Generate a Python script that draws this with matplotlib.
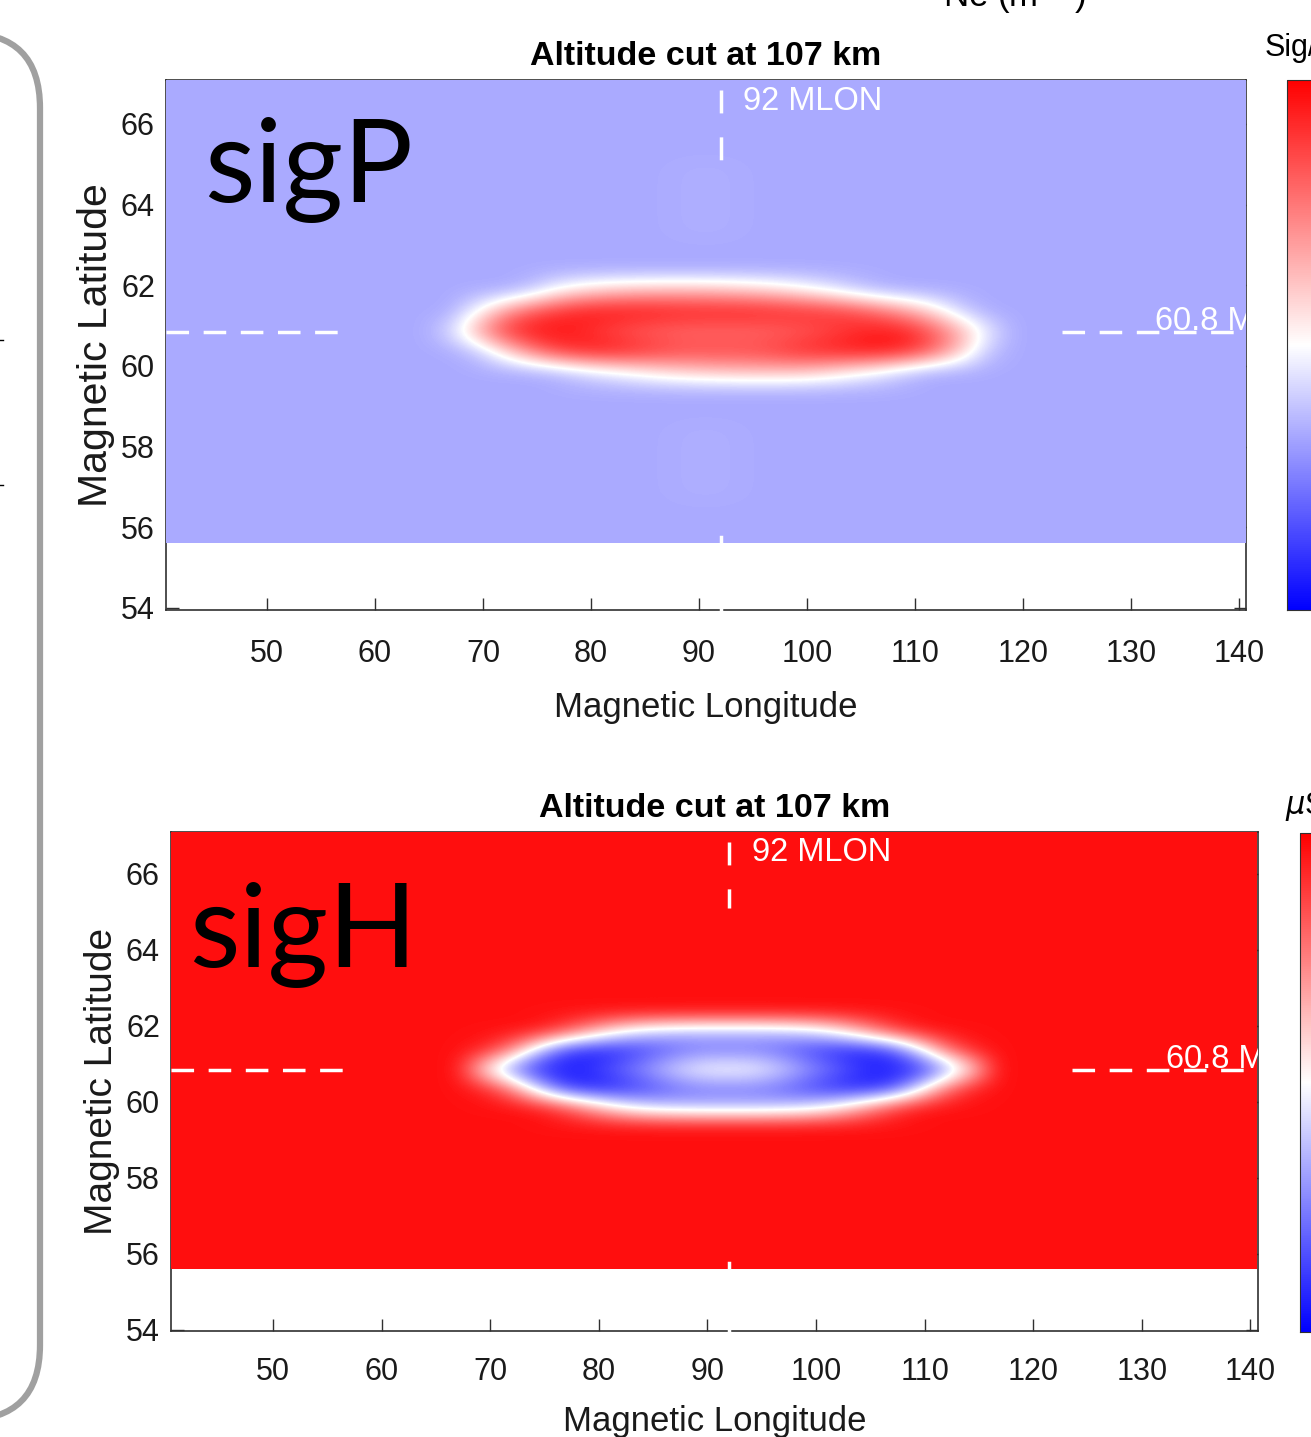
import numpy as np
import matplotlib
matplotlib.use("Agg")
import matplotlib.pyplot as plt
from matplotlib.patches import FancyBboxPatch

W, H = 1311, 1437

# ---- data (normalised colour values, 0 = blue, 0.5 = white, 1 = red) ----
grid_lon = (40.6, 140.6)          # image extent in MLON
grid_lat = (55.6, 67.1)           # image extent in MLAT
lon_step, lat_step = 2.5, 0.5

blob_lon = [66.85, 69.35, 71.85, 74.35, 76.85, 79.35, 81.85, 84.35, 86.85, 89.35, 91.85,
            94.35, 96.85, 99.35, 101.85, 104.35, 106.85, 109.35, 111.85, 114.35, 116.85]
blob_lat = [59.85, 60.35, 60.85, 61.35, 61.85]

sigp_background = 0.333
sigp_blob = [
    [.333, .333, .333, .333, .36, .42, .47, .52, .57, .60, .62, .63, .63, .62, .58, .52, .46, .38, .333, .333, .333],
    [.333, .38, .55, .74, .88, .94, .95, .92, .88, .86, .86, .86, .88, .92, .94, .96, .96, .92, .80, .60, .38],
    [.42, .66, .88, .96, .96, .92, .86, .82, .80, .79, .79, .79, .80, .82, .86, .91, .95, .93, .82, .65, .45],
    [.333, .48, .68, .82, .90, .95, .96, .96, .95, .94, .94, .94, .93, .92, .90, .86, .78, .68, .55, .40, .333],
    [.333, .333, .333, .38, .50, .57, .61, .63, .64, .64, .63, .61, .58, .53, .47, .40, .35, .333, .333, .333, .333],
]
# faint lighter column above and below the patch
ghost_lon = [86.85, 89.35, 91.85, 94.35]
ghost_lat = [56.85, 57.35, 57.85, 58.35, 63.35, 63.85, 64.35, 64.85]
ghost_val = [0.337, 0.342, 0.342, 0.337]

sigh_background = 0.97
sigh_blob = [
    [.97, .97, .97, .95, .85, .68, .52, .42, .38, .36, .36, .36, .38, .42, .52, .68, .85, .95, .97, .97, .97],
    [.97, .93, .75, .40, .12, .06, .08, .14, .20, .24, .24, .24, .20, .14, .08, .06, .12, .40, .75, .93, .97],
    [.97, .55, .25, .08, .06, .10, .20, .30, .42, .50, .52, .50, .42, .30, .20, .10, .06, .08, .25, .55, .97],
    [.97, .93, .75, .40, .12, .06, .08, .14, .20, .24, .24, .24, .20, .14, .08, .06, .12, .40, .75, .93, .97],
    [.97, .97, .97, .95, .85, .68, .52, .42, .38, .36, .36, .36, .38, .42, .52, .68, .85, .95, .97, .97, .97],
]

MLON_CUT = 92
MLAT_CUT = 60.8
xticks = [50, 60, 70, 80, 90, 100, 110, 120, 130, 140]
yticks = [54, 56, 58, 60, 62, 64, 66]

narrow = ["Liberation Sans Narrow", "Liberation Sans", "DejaVu Sans"]
plain = ["Liberation Sans", "DejaVu Sans"]


def build_field(background, blob, ghost=None):
    lons = np.arange(grid_lon[0] + lon_step / 2, grid_lon[1], lon_step)
    lats = np.arange(grid_lat[0] + lat_step / 2, grid_lat[1], lat_step)
    field = np.full((len(lats), len(lons)), background)
    for la, row in zip(blob_lat, blob):
        i = np.argmin(abs(lats - la))
        for lo, v in zip(blob_lon, row):
            field[i, np.argmin(abs(lons - lo))] = v
    if ghost is not None:
        for la in ghost_lat:
            i = np.argmin(abs(lats - la))
            for lo, v in zip(ghost_lon, ghost):
                field[i, np.argmin(abs(lons - lo))] = v
    return field


def px_box(x0, y0, x1, y1):
    return [x0 / W, 1 - y1 / H, (x1 - x0) / W, (y1 - y0) / H]


fig = plt.figure(figsize=(W / 100, H / 100), dpi=100)


def panel(box, field, xlim, ylim, cbox, cb_label, cb_label_xy, lat_label_size,
          xpad, xlabelpad, ylabelpad):
    ax = fig.add_axes(px_box(*box))
    im = ax.imshow(field, origin="lower", extent=(*grid_lon, *grid_lat), aspect="auto",
                   cmap="bwr", vmin=0, vmax=1, interpolation="bicubic",
                   interpolation_stage="data", zorder=1)
    ax.set_xlim(*xlim)
    ax.set_ylim(*ylim)
    ax.set_axisbelow(True)
    for s in ax.spines.values():
        s.set_zorder(0.5)
        s.set_color("#303030")
        s.set_linewidth(1.2)
    ax.set_xticks(xticks)
    ax.set_yticks(yticks)
    ax.tick_params(direction="in", length=9, width=1, top=True, right=True,
                   colors="#303030", labelcolor="#1a1a1a")
    ax.tick_params(axis="x", pad=xpad)
    ax.tick_params(axis="y", pad=8)
    for t in ax.get_xticklabels() + ax.get_yticklabels():
        t.set_fontfamily(narrow)
        t.set_fontsize(22)
    ax.set_title("Altitude cut at 107 km", fontfamily=narrow, fontsize=24.5,
                 fontweight="bold", pad=11)
    ax.set_xlabel("Magnetic Longitude", fontfamily=narrow, fontsize=25,
                  labelpad=xlabelpad, color="#1a1a1a")
    ax.set_ylabel("Magnetic Latitude", fontfamily=plain, fontsize=lat_label_size,
                  labelpad=ylabelpad, color="#1a1a1a")

    # white reference lines
    ax.plot([xlim[0], 57.5], [MLAT_CUT + 0.05] * 2, color="white", lw=2.5,
            dashes=(6.5, 4.2), zorder=3, clip_on=True)
    ax.plot([123.6, xlim[1]], [MLAT_CUT + 0.05] * 2, color="white", lw=2.5,
            dashes=(6.5, 4.2), zorder=3, clip_on=True)
    ax.plot([MLON_CUT, MLON_CUT], [66.84, 65.11], color="white", lw=2.5,
            dashes=(6.6, 6.9), zorder=3)
    ax.plot([MLON_CUT, MLON_CUT], [ylim[0] - 0.1, 55.75], color="white", lw=2.5,
            zorder=3, clip_on=False)
    ax.text(94.1, 66.55, "92 MLON", color="white", fontfamily=narrow, fontsize=23.5,
            va="center", ha="left", zorder=4)
    ax.text(132.2, MLAT_CUT + 0.1, "60.8 MLAT", color="white", fontfamily=narrow,
            fontsize=23.5, va="baseline", ha="left", zorder=4, clip_on=True)

    cax = fig.add_axes(px_box(*cbox))
    cb = fig.colorbar(im, cax=cax)
    cb.outline.set_edgecolor("#303030")
    cb.set_ticks([])
    fig.text(cb_label_xy[0] / W, 1 - cb_label_xy[1] / H, cb_label,
             fontfamily=narrow, fontsize=22, va="center", ha="left")
    return ax


panel((166, 80, 1246, 610), build_field(sigp_background, sigp_blob, ghost_val),
      (40.65, 140.65), (53.95, 67.09), (1287, 80, 1340, 610), "Sig/m",
      (1265, 48), 29.5, 21, 16, 4)
panel((171, 832, 1258, 1331), build_field(sigh_background, sigh_blob),
      (40.6, 140.7), (53.97, 67.1), (1300, 833, 1350, 1332), r"$\mu$S/m",
      (1285, 806), 28, 19, 13, 4)

# overlay in pixel coordinates for slide decorations
ov = fig.add_axes([0, 0, 1, 1], zorder=10)
ov.set_xlim(0, W)
ov.set_ylim(H, 0)
ov.axis("off")
ov.patch.set_visible(False)
ov.add_patch(FancyBboxPatch((-300, 33), 340, 1387,
                            boxstyle="round,pad=0,rounding_size=75",
                            fill=False, edgecolor="#a0a0a0", lw=4.5))
ov.plot([0, 3], [340, 340], color="black", lw=1)
ov.plot([0, 3], [485, 485], color="black", lw=1)
ov.text(204, 202, "sigP", fontfamily=["Lato", "DejaVu Sans"], fontsize=84,
        va="baseline", ha="left")
ov.text(189, 967, "sigH", fontfamily=["Lato", "DejaVu Sans"], fontsize=84,
        va="baseline", ha="left")
ov.text(943, 7, r"Ne (m$^{-3}$)", fontfamily=narrow, fontsize=25,
        va="baseline", ha="left")

fig.savefig("out.png", dpi=100)
